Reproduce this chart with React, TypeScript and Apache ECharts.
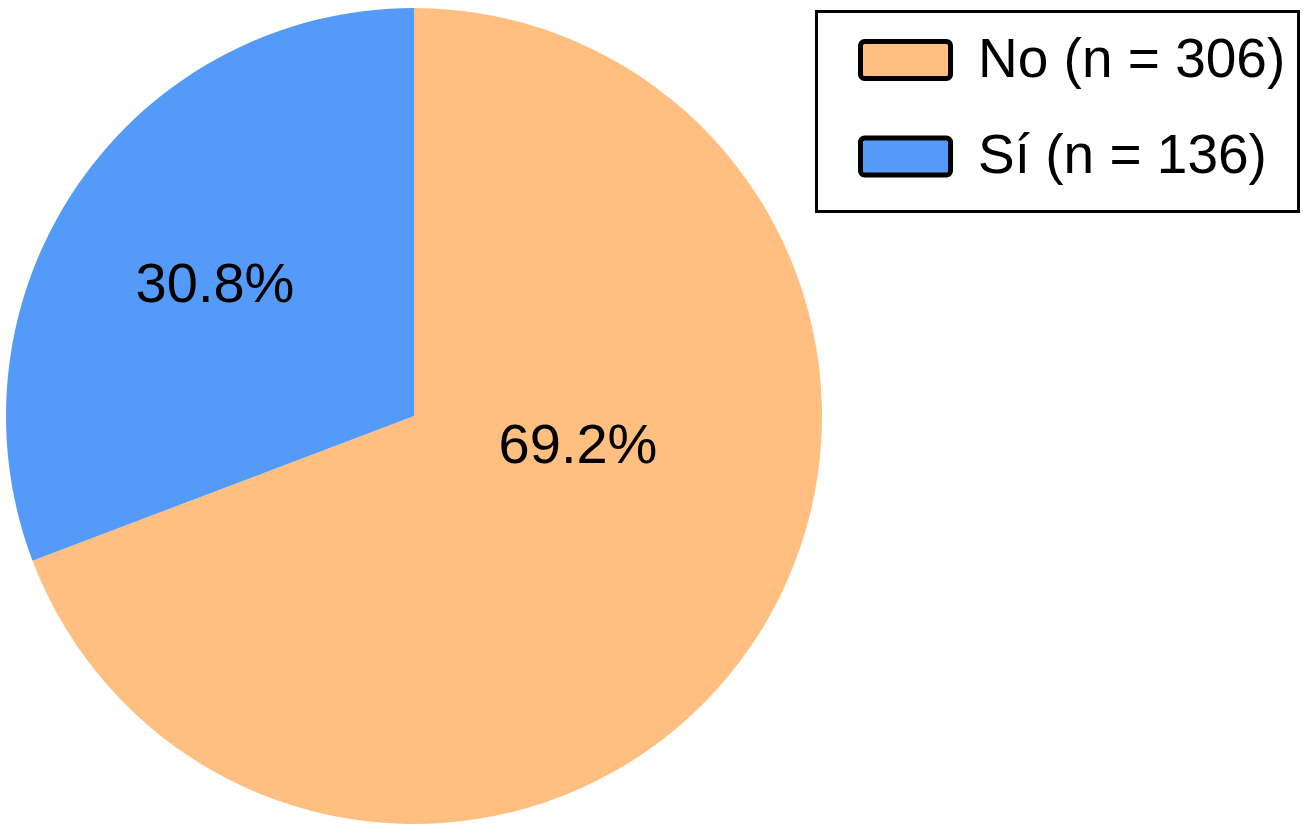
import React, { useEffect, useRef } from "react";
import * as echarts from "echarts";

const categories = ["No (n = 306)", "Sí (n = 136)"];
const counts = [306, 136];
const colors = ["#FEBF80", "#549AF8"];

const FONT = "Liberation Sans, Arial, Helvetica, sans-serif";

export default function App() {
  const ref = useRef<HTMLDivElement>(null);
  useEffect(() => {
    if (!ref.current) return;
    const chart = echarts.init(ref.current, null, { renderer: "svg" });
    const labelPos = [
      { x: 578, y: 443 },
      { x: 215, y: 282 },
    ];
    const rowTextTop = [30, 126];
    const rowSwatchTop = [41.5, 138];

    const legendGraphics: any[] = [
      {
        type: "rect",
        shape: { x: 816.5, y: 11.5, width: 482, height: 200 },
        style: { fill: "#fff", stroke: "#000", lineWidth: 3 },
        z: 10,
      },
    ];
    categories.forEach((name, i) => {
      legendGraphics.push({
        type: "rect",
        shape: { x: 860.5, y: rowSwatchTop[i], width: 90, height: 37, r: 4 },
        style: { fill: colors[i], stroke: "#000", lineWidth: 5 },
        z: 11,
      });
      legendGraphics.push({
        type: "text",
        x: 978,
        y: rowTextTop[i],
        style: {
          text: name,
          fontSize: 55,
          fontFamily: FONT,
          fill: "#000",
          textAlign: "left",
          textVerticalAlign: "top",
          verticalAlign: "top",
        },
        z: 11,
      });
    });

    chart.setOption({
      animation: false,
      backgroundColor: "#ffffff",
      textStyle: { fontFamily: FONT },
      graphic: legendGraphics,
      series: [
        {
          type: "pie",
          center: [414, 416],
          radius: [0, 408],
          startAngle: 90,
          clockwise: true,
          percentPrecision: 1,
          avoidLabelOverlap: false,
          label: {
            show: true,
            position: "inside",
            formatter: "{d}%",
            fontSize: 56,
            color: "#000",
            fontFamily: FONT,
          },
          labelLine: { show: false },
          labelLayout: (params: any) => {
            const p = labelPos[params.dataIndex];
            return { x: p.x, y: p.y, align: "center", verticalAlign: "middle" };
          },
          emphasis: { disabled: true },
          data: categories.map((name, i) => ({
            name,
            value: counts[i],
            itemStyle: { color: colors[i] },
          })),
        },
      ],
    });
    return () => chart.dispose();
  }, []);
  return (
    <div
      ref={ref}
      style={{ position: "fixed", left: 0, top: 0, width: 1303, height: 832 }}
    />
  );
}
